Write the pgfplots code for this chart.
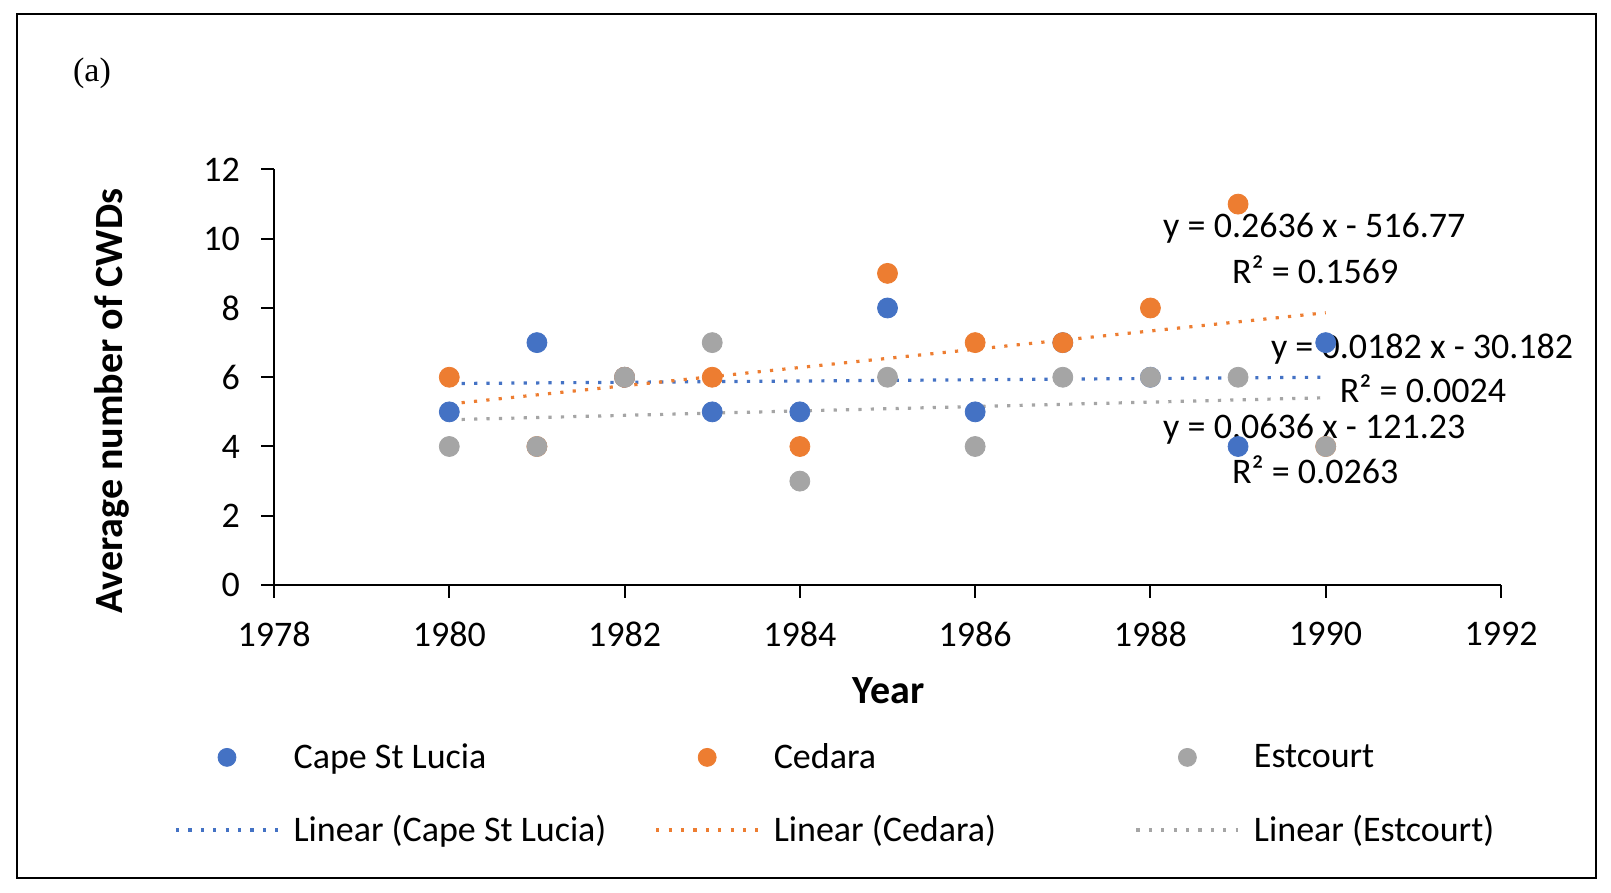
\documentclass[border=0pt]{standalone}
\usepackage{fontspec}
\setmainfont{Carlito}
\newfontfamily\seriffont{Liberation Serif}
\usepackage{pgfplots}
\pgfplotsset{compat=1.18}

\definecolor{cblue}{HTML}{4472C4}
\definecolor{corange}{HTML}{ED7D31}
\definecolor{cgray}{HTML}{A5A5A5}

\pgfplotsset{
  pts/.style={only marks, mark=*, mark size=5pt, color=#1,
    mark options={draw=#1, fill=#1},
    legend image code/.code={\draw[##1, mark size=4.5pt] plot coordinates {(25.5pt,0pt)};}},
  trend/.style={color=#1, line width=1.6pt, dash pattern=on 1.6pt off 4.6pt,
    legend image code/.code={\draw[##1] (0pt,0pt) -- (51pt,0pt);}},
}
\newcommand{\lgd}[1]{\makebox[170pt][l]{#1}}

\begin{document}
\begin{tikzpicture}
\useasboundingbox (0,0) rectangle (805.5pt,446.5pt);
\draw[line width=1.2pt] (8.5pt,7.5pt) rectangle (798pt,439.5pt);
\node[font=\seriffont\fontsize{17}{20}\selectfont] at (46pt,410pt) {(a)};
\begin{axis}[
  at={(137pt,154pt)}, anchor=south west,
  scale only axis, width=613.5pt, height=207.75pt,
  clip=false,
  xmin=1978, xmax=1992, ymin=0, ymax=12,
  xtick={1978,1980,...,1992}, ytick={0,2,...,12},
  axis x line=bottom, axis y line=left,
  axis line style={-, line width=1pt, black},
  tick align=outside, major tick length=6.5pt,
  tick style={black, line width=1pt},
  /pgf/number format/1000 sep={},
  /pgf/number format/assume math mode=true,
  ticklabel style={font=\fontsize{18}{21}\selectfont},
  yticklabel style={xshift=-7pt},
  xticklabel style={yshift=-8.5pt},
  xlabel={Year}, ylabel={Average number of CWDs},
  xlabel style={at={(axis description cs:0.501,-0.255)}, anchor=center,
    font=\bfseries\fontsize{20}{24}\selectfont},
  ylabel style={at={(axis description cs:-0.132,0.4428)}, anchor=center, rotate=0,
    font=\bfseries\fontsize{20}{24}\selectfont},
  legend columns=3,
  legend cell align=left,
  legend style={draw=none, fill=none, at={(-0.0864,-0.361)}, anchor=north west,
    font=\fontsize{18}{21}\selectfont,
    nodes={inner xsep=7pt, inner ysep=2pt},
    row sep=18pt,
    /tikz/every even column/.append style={column sep=3.5pt}},
]
\addplot[pts=cblue] coordinates {
(1980,5) (1981,7) (1982,6) (1983,5) (1984,5) (1985,8)
(1986,5) (1987,7) (1988,6) (1989,4) (1990,7)};
\addlegendentry{\lgd{Cape St Lucia}}
\addplot[pts=corange] coordinates {
(1980,6) (1981,4) (1982,6) (1983,6) (1984,4) (1985,9)
(1986,7) (1987,7) (1988,8) (1989,11) (1990,4)};
\addlegendentry{\lgd{Cedara}}
\addplot[pts=cgray] coordinates {
(1980,4) (1981,4) (1982,6) (1983,7) (1984,3) (1985,6)
(1986,4) (1987,6) (1988,6) (1989,6) (1990,4)};
\addlegendentry{\lgd{Estcourt}}
\addplot[trend=cblue] coordinates {(1980,5.8182) (1990,6.0000)};
\addlegendentry{\lgd{Linear (Cape St Lucia)}}
\addplot[trend=corange] coordinates {(1980,5.2273) (1990,7.8636)};
\addlegendentry{\lgd{Linear (Cedara)}}
\addplot[trend=cgray] coordinates {(1980,4.7727) (1990,5.4091)};
\addlegendentry{\lgd{Linear (Estcourt)}}

\begin{scope}[every node/.style={font=\fontsize{18}{21}\selectfont, inner sep=0pt}]
\node at (axis cs:1989.87,10.3) {y = 0.2636 x - 516.77};
\node at (axis cs:1989.88,9.1) {R² = 0.1569};
\node at (axis cs:1991.10,6.82) {y = 0.0182 x - 30.182};
\node at (axis cs:1991.11,5.66) {R² = 0.0024};
\node at (axis cs:1989.87,4.5) {y = 0.0636 x - 121.23};
\node at (axis cs:1989.88,3.34) {R² = 0.0263};
\end{scope}
\end{axis}
\end{tikzpicture}
\end{document}
